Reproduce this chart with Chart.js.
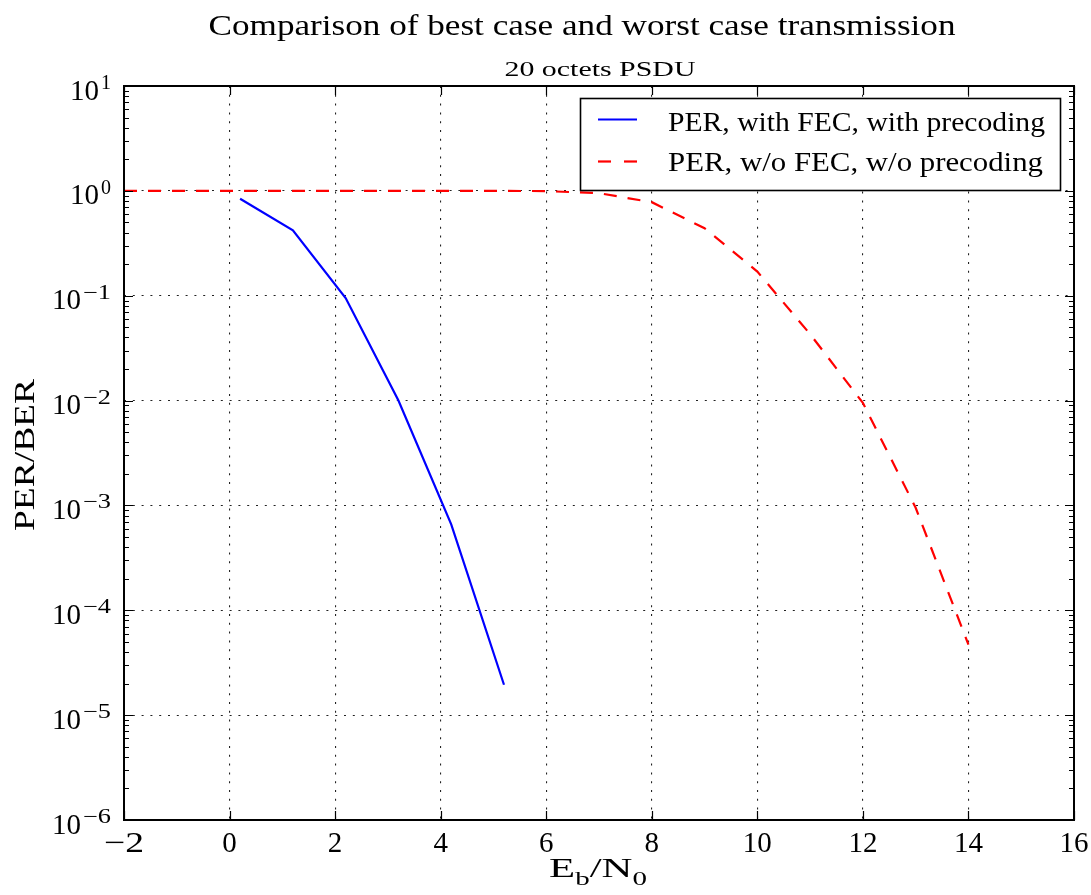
<!DOCTYPE html>
<html><head><meta charset="utf-8">
<script src="https://cdn.jsdelivr.net/npm/chart.js@4.4.0/dist/chart.umd.min.js"></script>
<style>html,body{margin:0;padding:0;background:#fff;}#wrap{width:1091px;height:895px;position:relative;}</style>
</head><body><div id="wrap"><canvas id="c" width="1091" height="895"></canvas></div>
<script>
const titleText = 'Comparison of best case and worst case transmission';
const subtitleText = '20 octets PSDU';
const seriesNames = ['PER, with FEC, with precoding', 'PER, w/o FEC, w/o precoding'];
const ebn0Fec = [0.2, 1.2, 2.2, 3.2, 4.2, 5.2];
const perFec = [0.84, 0.42, 0.095, 0.0100, 6.6e-4, 1.95e-5];
const ebn0NoFec = [-2, -1, 0, 1, 2, 3, 4, 5, 6, 7, 8, 9, 10, 11, 12, 13, 14];
const perNoFec = [1, 1, 1, 1, 1, 1, 1, 1, 0.995, 0.95, 0.78, 0.44, 0.17, 0.043, 0.0095, 0.00095, 4.7e-5];
const xTickValues = [-2, 0, 2, 4, 6, 8, 10, 12, 14, 16];
const xTickLabels = ['\u22122', '0', '2', '4', '6', '8', '10', '12', '14', '16'];
const yTickValues = [1e1, 1e0, 1e-1, 1e-2, 1e-3, 1e-4, 1e-5, 1e-6];
const yTickExponents = ['1', '0', '\u22121', '\u22122', '\u22123', '\u22124', '\u22125', '\u22126'];
const xAxisLabel = ['E', 'b', '/N', '0'];
const yAxisLabel = 'PER/BER';

const SERIF = '"Liberation Serif", "DejaVu Serif", serif';

function fitText(ctx, text, x, y, size, targetW, align) {
  ctx.font = size + 'px ' + SERIF;
  const w = ctx.measureText(text).width;
  const sx = targetW ? targetW / w : 1;
  ctx.save();
  ctx.translate(x, y);
  ctx.scale(sx, 1);
  ctx.textAlign = align || 'left';
  ctx.textBaseline = 'alphabetic';
  ctx.fillStyle = '#000';
  ctx.fillText(text, 0, 0);
  ctx.restore();
}

const decor = {
  id: 'decor',
  afterDraw(chart) {
    const ctx = chart.ctx;
    const a = chart.chartArea;
    const xs = chart.scales.x, ys = chart.scales.y;
    ctx.save();
    // ticks (inward)
    ctx.strokeStyle = '#000';
    ctx.lineWidth = 1.2;
    ctx.beginPath();
    xTickValues.forEach(v => {
      const px = Math.round(xs.getPixelForValue(v)) + 0.5;
      ctx.moveTo(px, a.bottom); ctx.lineTo(px, a.bottom - 9);
      ctx.moveTo(px, a.top); ctx.lineTo(px, a.top + 9);
    });
    yTickValues.forEach(v => {
      const py = Math.round(ys.getPixelForValue(v)) + 0.5;
      ctx.moveTo(a.left, py); ctx.lineTo(a.left + 9, py);
      ctx.moveTo(a.right, py); ctx.lineTo(a.right - 9, py);
    });
    for (let e = -6; e < 1; e++) {
      for (let k = 2; k <= 9; k++) {
        const py = Math.round(ys.getPixelForValue(k * Math.pow(10, e))) + 0.5;
        ctx.moveTo(a.left, py); ctx.lineTo(a.left + 5, py);
        ctx.moveTo(a.right, py); ctx.lineTo(a.right - 5, py);
      }
    }
    ctx.stroke();
    // frame
    ctx.lineWidth = 2;
    ctx.strokeRect(a.left, a.top, a.right - a.left, a.bottom - a.top);

    // x tick labels
    xTickValues.forEach((v, i) => {
      const px = xs.getPixelForValue(v);
      const lab = xTickLabels[i];
      fitText(ctx, lab, px, 852, 29, lab.indexOf('\u2212') >= 0 ? 40 : 0, 'center');
    });
    // y tick labels with superscript exponents
    yTickValues.forEach((v, i) => {
      const py = ys.getPixelForValue(v);
      const ex = yTickExponents[i];
      const supW = ex.indexOf('\u2212') >= 0 ? 28 : 10;
      fitText(ctx, ex, 111, py + 3, 20, supW, 'right');
      fitText(ctx, '10', 111 - supW - 2, py + 13.5, 29, 29, 'right');
    });

    // x axis label E_b/N_0
    {
      const big = 28, small = 19;
      ctx.font = big + 'px ' + SERIF;
      const wE = ctx.measureText(xAxisLabel[0]).width;
      const wN = ctx.measureText(xAxisLabel[2]).width;
      ctx.font = small + 'px ' + SERIF;
      const wb = ctx.measureText(xAxisLabel[1]).width;
      const w0 = ctx.measureText(xAxisLabel[3]).width;
      const total = wE + wb + wN + w0;
      const target = 98;
      const sx = target / total;
      const cx = 598, base = 877;
      ctx.save();
      ctx.translate(cx - target / 2, 0);
      ctx.scale(sx, 1);
      ctx.fillStyle = '#000';
      ctx.textAlign = 'left';
      ctx.textBaseline = 'alphabetic';
      let x = 0;
      ctx.font = big + 'px ' + SERIF; ctx.fillText(xAxisLabel[0], x, base); x += wE;
      ctx.font = small + 'px ' + SERIF; ctx.fillText(xAxisLabel[1], x, base + 8); x += wb;
      ctx.font = big + 'px ' + SERIF; ctx.fillText(xAxisLabel[2], x, base); x += wN;
      ctx.font = small + 'px ' + SERIF; ctx.fillText(xAxisLabel[3], x, base + 8);
      ctx.restore();
    }
    // y axis label
    ctx.save();
    ctx.translate(34, 455);
    ctx.rotate(-Math.PI / 2);
    fitText(ctx, yAxisLabel, 0, 0, 29, 152, 'center');
    ctx.restore();

    // titles
    fitText(ctx, titleText, 582, 35, 30, 747, 'center');
    fitText(ctx, subtitleText, 600, 76, 21, 191, 'center');

    // legend
    ctx.fillStyle = '#fff';
    ctx.fillRect(580, 98, 481, 92);
    ctx.strokeStyle = '#000';
    ctx.lineWidth = 1.6;
    ctx.strokeRect(580.5, 98.5, 480, 92);
    ctx.lineWidth = 2.2;
    ctx.strokeStyle = '#0000ff';
    ctx.beginPath(); ctx.moveTo(598, 119.5); ctx.lineTo(637, 119.5); ctx.stroke();
    ctx.strokeStyle = '#ff0000';
    ctx.setLineDash([13, 13]);
    ctx.beginPath(); ctx.moveTo(598, 161.5); ctx.lineTo(637, 161.5); ctx.stroke();
    ctx.setLineDash([]);
    fitText(ctx, seriesNames[0], 668, 130.5, 27, 377, 'left');
    fitText(ctx, seriesNames[1], 668, 171, 27, 375, 'left');
    ctx.restore();
  }
};

const ctx = document.getElementById('c').getContext('2d');
new Chart(ctx, {
  type: 'line',
  data: {
    datasets: [
      { label: seriesNames[0], data: ebn0Fec.map((x, i) => ({ x: x, y: perFec[i] })),
        borderColor: '#0000ff', borderWidth: 2.2, pointRadius: 0, tension: 0, fill: false },
      { label: seriesNames[1], data: ebn0NoFec.map((x, i) => ({ x: x, y: perNoFec[i] })),
        borderColor: '#ff0000', borderWidth: 2.2, borderDash: [13, 11], pointRadius: 0, tension: 0, fill: false }
    ]
  },
  options: {
    responsive: false, animation: false, devicePixelRatio: 1,
    layout: { padding: { left: 124, top: 86, right: 17, bottom: 75 } },
    plugins: { legend: { display: false }, title: { display: false }, tooltip: { enabled: false } },
    scales: {
      x: { type: 'linear', min: -2, max: 16,
        afterBuildTicks: s => { s.ticks = xTickValues.map(v => ({ value: v })); },
        ticks: { display: false },
        grid: { color: '#222', lineWidth: 1.1, drawTicks: false },
        border: { display: false, dash: [2, 6.8] } },
      y: { type: 'logarithmic', min: 1e-6, max: 10,
        afterBuildTicks: s => { s.ticks = yTickValues.map(v => ({ value: v })); },
        ticks: { display: false },
        grid: { color: '#222', lineWidth: 1.1, drawTicks: false },
        border: { display: false, dash: [2, 6.8] } }
    }
  },
  plugins: [decor]
});
</script></body></html>
